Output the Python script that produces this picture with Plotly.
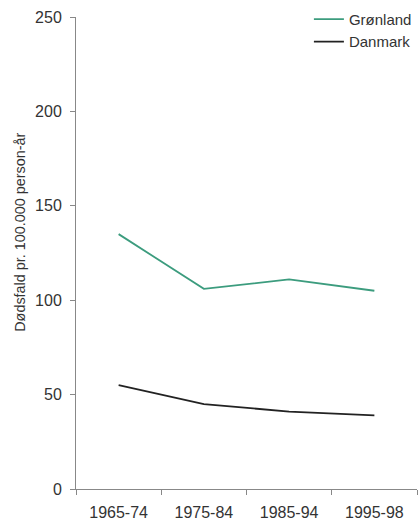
import plotly.graph_objects as go

categories = ["1965-74", "1975-84", "1985-94", "1995-98"]
gronland = [135, 106, 111, 105]
danmark = [55, 45, 41, 39]
y_ticks = [0, 50, 100, 150, 200, 250]
y_title = "Dødsfald pr. 100.000 person-år"

fig = go.Figure()
fig.add_trace(go.Scatter(x=categories, y=gronland, mode="lines", name="Grønland",
                         line=dict(color="#3c9c7e", width=1.8)))
fig.add_trace(go.Scatter(x=categories, y=danmark, mode="lines", name="Danmark",
                         line=dict(color="#222222", width=1.8)))

fig.update_layout(
    width=418, height=524,
    margin=dict(l=76, r=1, t=17, b=35),
    paper_bgcolor="white", plot_bgcolor="white",
    font=dict(family="Liberation Sans, Arial, sans-serif", color="#333333", size=15),
    showlegend=True,
    legend=dict(x=0.683, y=1.030, xanchor="left", yanchor="top",
                bgcolor="rgba(0,0,0,0)", font=dict(size=15), tracegroupgap=0,
                itemwidth=30),
    xaxis=dict(type="category", range=[-0.5, 3.5], showgrid=False,
               showline=True, linecolor="#888888", linewidth=1,
               ticks="outside", tickson="boundaries", ticklen=5, tickcolor="#888888",
               ticklabelstandoff=9,
               tickfont=dict(size=16, color="#333333"), zeroline=False),
    yaxis=dict(range=[0, 250], tickvals=y_ticks, showgrid=False,
               showline=True, linecolor="#888888", linewidth=1,
               ticks="outside", ticklen=5, tickcolor="#888888",
               ticklabelstandoff=5,
               tickfont=dict(size=16, color="#333333"), zeroline=False),
    annotations=[dict(text=y_title, textangle=-90, xref="paper", yref="paper",
                      x=-0.164, y=0.543, xanchor="center", yanchor="middle",
                      showarrow=False, font=dict(size=14.4, color="#333333"))],
)

fig.write_html("out.html", config={"displayModeBar": False},
               post_script="document.body.style.margin='0';")
